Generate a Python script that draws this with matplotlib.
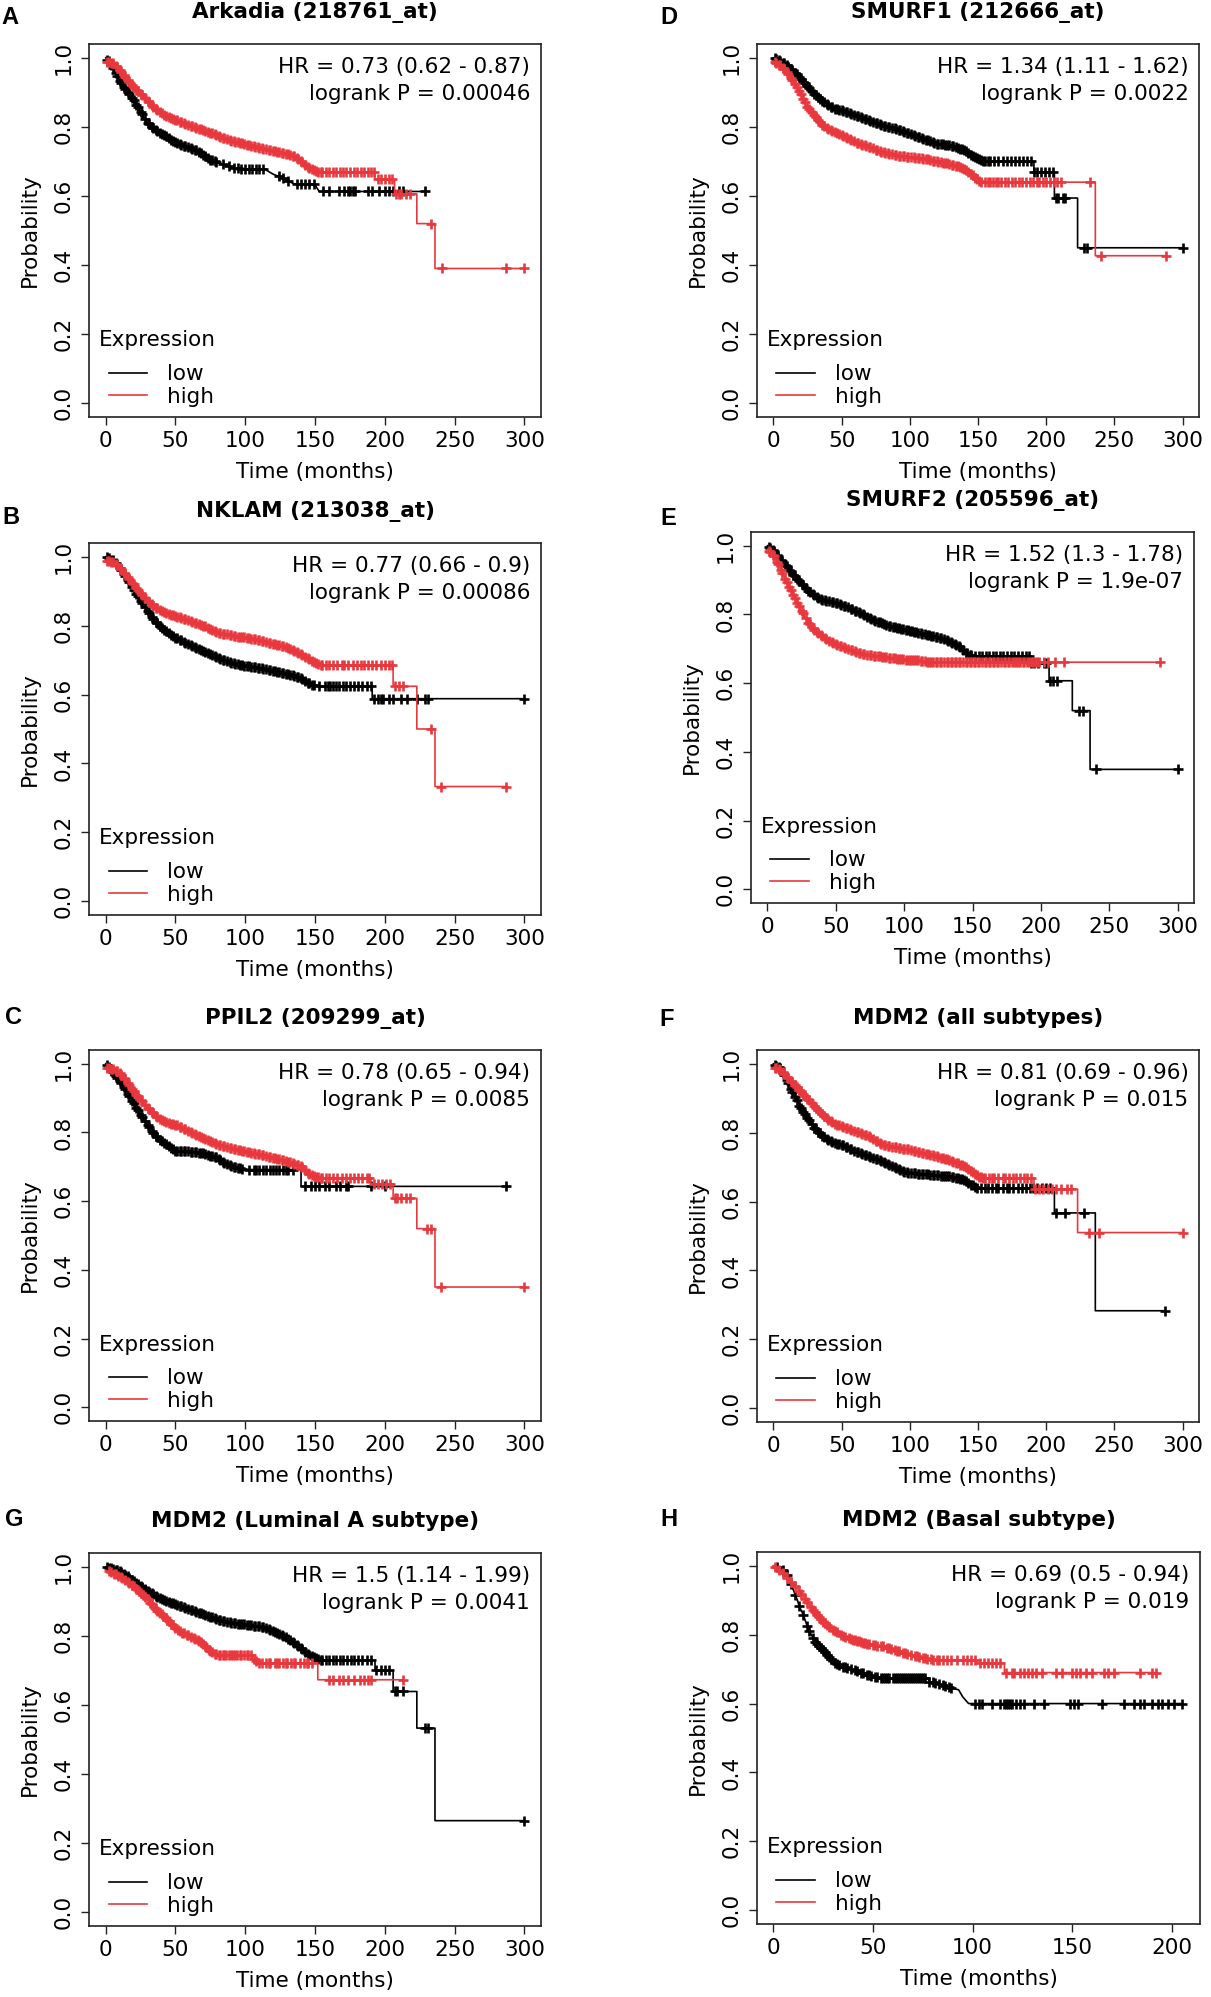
import numpy as np
import matplotlib.pyplot as plt

# Kaplan-Meier curves: knots (months, survival) and censor-mark times

# shared dense run of censor marks (where the "+" marks merge into a thick band)
dense_marks = [1, 2, 4, 5, 7, 8, 10, 11, 13, 14, 16, 17, 19, 20, 22, 23, 25, 26, 28, 30, 31, 33,
               34, 36, 37, 39, 40, 42, 43, 45, 47, 48, 50, 51, 53, 54, 56, 57, 59, 61, 62, 64, 65,
               67, 68, 70, 71, 73, 75, 76, 78, 79, 81, 82, 84, 85, 87, 89, 90, 92, 93, 95, 96, 98,
               99, 101, 103, 104, 106, 107, 109, 110, 112, 113, 115, 117, 118, 120, 121, 123, 124,
               126, 127, 129, 131, 132, 134, 135, 137, 138, 140, 141, 143, 145, 146, 148, 149, 151,
               152, 154, 155, 157, 159, 160, 162, 163, 165, 166, 168, 169, 171, 173, 174, 176, 177,
               179, 180, 182, 183, 185, 187, 188, 190, 191, 193, 194, 196, 197, 199]


def upto(limit):
    return [m for m in dense_marks if m <= limit]


# A - Arkadia
a_low_t = [0, 3, 6, 9, 12, 15, 18, 21, 24, 27, 30, 35, 40, 45, 50, 55, 60, 65, 70, 75, 80, 85, 90,
           100, 115, 120, 125, 130, 135, 150, 153]
a_low_s = [1.0, 0.985, 0.965, 0.94, 0.92, 0.905, 0.89, 0.87, 0.85, 0.83, 0.81, 0.795, 0.78, 0.768,
           0.755, 0.747, 0.74, 0.732, 0.72, 0.705, 0.697, 0.69, 0.683, 0.678, 0.675, 0.663, 0.655,
           0.645, 0.635, 0.632, 0.613]
a_low_c = upto(80) + [84, 88, 92, 95, 97, 100, 103, 105, 108, 110, 113, 124, 127, 131, 137, 140,
                      143, 146, 149, 156, 160, 167, 171, 174, 175, 177, 179, 188, 191, 196, 200,
                      203, 206, 210, 213, 229]
a_high_t = [0, 5, 10, 15, 20, 25, 30, 35, 40, 45, 50, 60, 70, 80, 90, 100, 110, 120, 130, 135, 140,
            145, 150, 155, 193, 207, 223, 236]
a_high_s = [0.99, 0.985, 0.965, 0.94, 0.915, 0.895, 0.875, 0.855, 0.84, 0.828, 0.82, 0.805, 0.79,
            0.775, 0.76, 0.75, 0.74, 0.73, 0.722, 0.715, 0.70, 0.685, 0.672, 0.668, 0.648, 0.606,
            0.52, 0.39]
a_high_c = upto(155) + [158, 160, 163, 165, 168, 170, 172, 175, 178, 180, 183, 185, 188, 190, 192,
                        195, 197, 200, 203, 205, 208, 210, 212, 215, 218, 233, 241, 287, 300]

# B - NKLAM
b_low_t = [0, 5, 10, 15, 20, 25, 30, 35, 40, 45, 50, 55, 60, 70, 80, 90, 100, 110, 120, 130, 140,
           145, 150, 191]
b_low_s = [1.0, 0.99, 0.968, 0.94, 0.905, 0.872, 0.843, 0.815, 0.794, 0.778, 0.765, 0.755, 0.745,
           0.726, 0.707, 0.693, 0.683, 0.678, 0.669, 0.66, 0.649, 0.634, 0.625, 0.588]
b_low_c = upto(150) + [153, 157, 159, 161, 163, 165, 167, 170, 172, 175, 178, 181, 184, 187, 190,
                       192, 195, 197, 199, 203, 206, 212, 216, 223, 229, 231, 300]
b_high_t = [0, 5, 10, 15, 20, 25, 30, 35, 40, 45, 50, 60, 70, 80, 90, 100, 110, 120, 130, 140, 145,
            150, 155, 206, 223, 236]
b_high_s = [0.99, 0.985, 0.968, 0.945, 0.92, 0.895, 0.872, 0.855, 0.843, 0.835, 0.828, 0.814, 0.80,
            0.78, 0.772, 0.765, 0.758, 0.748, 0.736, 0.717, 0.705, 0.693, 0.685, 0.624, 0.50, 0.333]
b_high_c = upto(155) + [158, 160, 163, 166, 169, 171, 174, 177, 180, 183, 185, 188, 191, 194, 197,
                        200, 203, 205, 207, 210, 213, 233, 240, 287]

# C - PPIL2
c_low_t = [0, 5, 10, 15, 20, 25, 30, 35, 40, 45, 50, 60, 70, 80, 85, 90, 100, 140]
c_low_s = [1.0, 0.975, 0.949, 0.92, 0.886, 0.852, 0.823, 0.794, 0.774, 0.76, 0.747, 0.745, 0.739,
           0.726, 0.712, 0.702, 0.692, 0.643]
c_low_c = upto(98) + [103, 106, 108, 110, 113, 115, 118, 120, 122, 124, 127, 129, 131, 134, 143, 147,
                      150, 153, 157, 160, 165, 168, 172, 174, 190, 200, 287]
c_high_t = [0, 5, 10, 15, 20, 25, 30, 35, 40, 45, 50, 60, 70, 80, 90, 100, 110, 120, 130, 140, 145,
            150, 155, 190, 206, 223, 236]
c_high_s = [0.99, 0.985, 0.973, 0.95, 0.92, 0.895, 0.871, 0.852, 0.837, 0.828, 0.823, 0.803, 0.784,
            0.765, 0.755, 0.745, 0.736, 0.726, 0.716, 0.702, 0.682, 0.671, 0.668, 0.65, 0.608, 0.52,
            0.35]
c_high_c = upto(155) + [158, 160, 163, 166, 169, 172, 175, 178, 181, 184, 187, 189, 192, 195, 198,
                        201, 204, 207, 209, 212, 215, 218, 230, 233, 240, 300]

# G - MDM2 Luminal A
g_low_t = [0, 5, 10, 15, 20, 25, 30, 35, 40, 45, 50, 55, 60, 65, 70, 75, 80, 85, 90, 100, 110, 115,
           120, 125, 130, 135, 140, 145, 150, 155, 193, 206, 223, 236]
g_low_s = [1.0, 0.995, 0.988, 0.975, 0.96, 0.945, 0.93, 0.918, 0.906, 0.898, 0.891, 0.884, 0.877,
           0.87, 0.862, 0.855, 0.848, 0.843, 0.838, 0.833, 0.828, 0.822, 0.814, 0.805, 0.794, 0.78,
           0.766, 0.747, 0.737, 0.729, 0.70, 0.639, 0.533, 0.265]
g_low_c = upto(155) + [158, 160, 163, 165, 168, 170, 173, 176, 178, 181, 184, 187, 190, 194, 197,
                       200, 203, 207, 209, 213, 229, 231, 300]
g_high_t = [0, 5, 10, 15, 20, 25, 30, 35, 40, 45, 50, 55, 60, 65, 70, 75, 80, 105, 110, 152]
g_high_s = [0.99, 0.982, 0.973, 0.958, 0.944, 0.925, 0.906, 0.881, 0.862, 0.843, 0.824, 0.809, 0.80,
            0.79, 0.776, 0.756, 0.744, 0.735, 0.722, 0.673]
g_high_c = [2, 4, 6, 7, 9, 11, 12, 14, 16, 17, 19, 20, 22, 24, 25, 27, 28, 30, 32, 33, 35, 36, 37,
            39, 40, 41, 43, 44, 45, 47, 48, 50, 52, 53, 55, 56, 58, 59, 61, 63, 64, 66, 67, 68, 70,
            71, 72, 74, 75, 76, 78, 79, 81, 82, 84, 85, 86, 88, 90, 91, 93, 94, 96, 97, 99, 101,
            102, 104, 106, 108, 110, 112, 115, 117, 118, 121, 123, 124, 127, 129, 130, 133, 135,
            136, 139, 142, 144, 145, 148, 160, 163, 167, 170, 174, 178, 182, 185, 188, 190, 213]

# D - SMURF1
d_low_t = [0, 5, 10, 15, 20, 25, 30, 35, 40, 45, 50, 60, 70, 80, 90, 100, 110, 120, 130, 140, 145,
           150, 155, 191, 206, 223]
d_low_s = [1.0, 0.992, 0.978, 0.96, 0.94, 0.918, 0.896, 0.878, 0.862, 0.853, 0.848, 0.833, 0.819,
           0.804, 0.795, 0.78, 0.766, 0.751, 0.747, 0.732, 0.718, 0.708, 0.70, 0.67, 0.594, 0.45]
d_low_c = upto(155) + [157, 159, 162, 165, 168, 171, 174, 177, 180, 183, 186, 189, 191, 193, 196,
                       199, 202, 205, 207, 209, 212, 214, 228, 230, 300]
d_high_t = [0, 5, 10, 15, 20, 25, 30, 35, 40, 45, 50, 60, 70, 80, 90, 100, 110, 120, 130, 140, 145,
            150, 153, 236]
d_high_s = [0.99, 0.978, 0.959, 0.93, 0.896, 0.857, 0.833, 0.809, 0.795, 0.785, 0.776, 0.756, 0.742,
            0.727, 0.718, 0.713, 0.708, 0.70, 0.692, 0.679, 0.665, 0.645, 0.64, 0.427]
d_high_c = upto(152) + [155, 157, 159, 161, 163, 165, 167, 170, 172, 175, 177, 180, 182, 185, 188,
                        190, 193, 195, 198, 200, 203, 206, 208, 211, 232, 240, 288]

# E - SMURF2
e_low_t = [0, 5, 10, 15, 20, 25, 30, 35, 40, 45, 50, 60, 70, 80, 90, 100, 110, 120, 130, 140, 145,
           150, 192, 206, 223, 236]
e_low_s = [1.0, 0.984, 0.959, 0.935, 0.911, 0.89, 0.868, 0.853, 0.843, 0.838, 0.834, 0.819, 0.80,
           0.78, 0.766, 0.756, 0.747, 0.737, 0.727, 0.708, 0.689, 0.679, 0.658, 0.607, 0.52, 0.349]
e_low_c = upto(149) + [152, 155, 157, 160, 162, 165, 167, 170, 172, 175, 178, 180, 183, 186, 189,
                       191, 193, 195, 198, 202, 204, 207, 209, 212, 228, 231, 240, 300]
e_high_t = [0, 5, 10, 15, 20, 25, 30, 35, 40, 45, 50, 60, 70, 80, 90, 100, 110, 120]
e_high_s = [0.99, 0.969, 0.93, 0.887, 0.848, 0.81, 0.776, 0.751, 0.737, 0.722, 0.713, 0.698, 0.684,
            0.679, 0.674, 0.669, 0.666, 0.661]
e_high_c = upto(199) + [202, 205, 210, 217, 287]

# F - MDM2 all subtypes
f_low_t = [0, 5, 10, 15, 20, 25, 30, 35, 40, 45, 50, 60, 70, 80, 90, 95, 100, 110, 120, 130, 140,
           145, 150, 206, 236]
f_low_s = [1.0, 0.987, 0.954, 0.91, 0.871, 0.843, 0.814, 0.794, 0.78, 0.77, 0.765, 0.746, 0.731,
           0.717, 0.698, 0.688, 0.683, 0.68, 0.676, 0.673, 0.663, 0.649, 0.638, 0.567, 0.283]
f_low_c = upto(149) + [152, 155, 157, 160, 163, 165, 168, 171, 173, 176, 179, 182, 185, 188, 190,
                       193, 197, 200, 203, 207, 214, 228, 287]
f_high_t = [0, 5, 10, 15, 20, 25, 30, 35, 40, 45, 50, 60, 70, 80, 90, 100, 110, 120, 130, 140, 145,
            150, 155, 191, 223]
f_high_s = [0.99, 0.983, 0.963, 0.942, 0.92, 0.898, 0.876, 0.857, 0.838, 0.826, 0.818, 0.804, 0.789,
            0.765, 0.757, 0.751, 0.741, 0.731, 0.719, 0.702, 0.688, 0.673, 0.668, 0.636, 0.51]
f_high_c = upto(155) + [158, 160, 162, 165, 168, 170, 173, 176, 178, 181, 184, 186, 189, 192, 195,
                        198, 201, 204, 207, 211, 215, 218, 231, 239, 300]

# H - MDM2 Basal
h_low_t = [0, 3, 6, 8, 10, 12, 13, 15, 17, 19, 21, 24, 27, 30, 35, 40, 45, 50, 55, 78, 85, 88, 93,
           95, 98]
h_low_s = [1.0, 0.993, 0.984, 0.964, 0.93, 0.901, 0.882, 0.858, 0.824, 0.80, 0.78, 0.761, 0.742,
           0.722, 0.707, 0.698, 0.688, 0.678, 0.673, 0.664, 0.654, 0.647, 0.64, 0.62, 0.60]
h_low_c = [2, 5, 7, 9, 11, 13, 15, 17, 18, 20, 21, 22, 23, 24, 25, 26, 27, 28, 29, 31, 32, 33, 35,
           36, 37, 39, 41, 42, 44, 45, 47, 48, 49, 51, 52, 54, 55, 56, 57, 58, 60, 61, 62, 63, 64,
           65, 66, 67, 68, 69, 70, 71, 72, 73, 74, 75, 76, 78, 80, 81, 83, 85, 86, 88, 89, 101,
           103, 105, 110, 114, 116, 117, 118, 119, 120, 122, 124, 126, 131, 136, 149, 151, 153,
           165, 176, 181, 184, 186, 190, 193, 195, 198, 201, 205]
h_high_t = [0, 3, 5, 8, 10, 12, 15, 18, 20, 25, 30, 35, 40, 45, 50, 55, 60, 65, 70, 75, 80, 102, 116]
h_high_s = [1.0, 0.988, 0.979, 0.959, 0.945, 0.935, 0.911, 0.887, 0.872, 0.838, 0.814, 0.795, 0.785,
            0.777, 0.77, 0.766, 0.756, 0.748, 0.741, 0.732, 0.727, 0.717, 0.69]
h_high_c = [1, 3, 5, 7, 9, 11, 13, 14, 16, 17, 19, 20, 21, 22, 23, 24, 25, 26, 27, 28, 30, 31, 32,
            34, 35, 36, 38, 39, 40, 41, 42, 43, 44, 45, 46, 47, 48, 50, 51, 52, 54, 55, 57, 58, 59,
            61, 62, 63, 65, 66, 67, 69, 71, 72, 73, 75, 76, 77, 79, 80, 82, 83, 85, 87, 89, 92,
            95, 97, 99, 101, 104, 106, 108, 110, 112, 114, 117, 120, 121, 124, 126, 128, 130, 132,
            135, 142, 145, 150, 152, 154, 157, 160, 166, 168, 171, 184, 190, 192]

letters = ['A', 'B', 'C', 'G', 'D', 'E', 'F', 'H']
titles = ['Arkadia (218761_at)', 'NKLAM (213038_at)', 'PPIL2 (209299_at)',
          'MDM2 (Luminal A subtype)', 'SMURF1 (212666_at)', 'SMURF2 (205596_at)',
          'MDM2 (all subtypes)', 'MDM2 (Basal subtype)']
hr_text = ['HR = 0.73 (0.62 - 0.87)', 'HR = 0.77 (0.66 - 0.9)', 'HR = 0.78 (0.65 - 0.94)',
           'HR = 1.5 (1.14 - 1.99)', 'HR = 1.34 (1.11 - 1.62)', 'HR = 1.52 (1.3 - 1.78)',
           'HR = 0.81 (0.69 - 0.96)', 'HR = 0.69 (0.5 - 0.94)']
p_text = ['logrank P = 0.00046', 'logrank P = 0.00086', 'logrank P = 0.0085',
          'logrank P = 0.0041', 'logrank P = 0.0022', 'logrank P = 1.9e-07',
          'logrank P = 0.015', 'logrank P = 0.019']
x_max = [300, 300, 300, 300, 300, 300, 300, 206]
x_last = [300, 300, 300, 300, 300, 300, 300, 200]
curves = [
    ((a_low_t, a_low_s, a_low_c), (a_high_t, a_high_s, a_high_c)),
    ((b_low_t, b_low_s, b_low_c), (b_high_t, b_high_s, b_high_c)),
    ((c_low_t, c_low_s, c_low_c), (c_high_t, c_high_s, c_high_c)),
    ((g_low_t, g_low_s, g_low_c), (g_high_t, g_high_s, g_high_c)),
    ((d_low_t, d_low_s, d_low_c), (d_high_t, d_high_s, d_high_c)),
    ((e_low_t, e_low_s, e_low_c), (e_high_t, e_high_s, e_high_c)),
    ((f_low_t, f_low_s, f_low_c), (f_high_t, f_high_s, f_high_c)),
    ((h_low_t, h_low_s, h_low_c), (h_high_t, h_high_s, h_high_c)),
]

# layout in pixels: axes box (left, top, right, bottom), panel letter centre
W, H = 1211, 1997
boxes = [(89, 44, 541, 417), (89, 543, 541, 915), (89, 1050, 541, 1421), (89, 1553, 541, 1926),
         (757, 44, 1199, 417), (751, 532, 1194, 903), (757, 1050, 1199, 1422),
         (757, 1552, 1200, 1924)]
letter_pos = [(10, 18), (11, 517), (13, 1018), (14, 1520),
              (669, 18), (668, 518), (667, 1020), (669, 1520)]

RED = '#e8383d'
BLACK = '#000000'
FS = 15.5


def km_path(ts, ss, end):
    # knots close together are the many tiny steps of the dense part: join them directly;
    # a knot after a long flat stretch is a real visible step
    xs, ys = [ts[0]], [ss[0]]
    for k in range(1, len(ts)):
        if ts[k] - ts[k - 1] > 10:
            xs.append(ts[k])
            ys.append(ss[k - 1])
        xs.append(ts[k])
        ys.append(ss[k])
    xs.append(end)
    ys.append(ss[-1])
    return np.array(xs, float), np.array(ys, float)


fig = plt.figure(figsize=(W / 100, H / 100), dpi=100)

for i in range(8):
    l, t, r, b = boxes[i]
    ax = fig.add_axes([l / W, 1 - b / H, (r - l) / W, (b - t) / H])
    handles = []
    for (ts, ss, cs), col, lab in zip(curves[i], (BLACK, RED), ('low', 'high')):
        cs = np.asarray(cs, float)
        xs, ys = km_path(ts, ss, max(cs.max(), ts[-1]))
        ln, = ax.plot(xs, ys, color=col, lw=1.2, label=lab)
        ax.plot(cs, np.interp(cs, xs, ys), ls='none', marker='+', ms=7.5, mew=1.9, color=col)
        handles.append(ln)

    xm = x_max[i]
    ax.set_xlim(-0.04 * xm, 1.04 * xm)
    ax.set_ylim(-0.04, 1.04)
    ax.set_xticks(np.arange(0, x_last[i] + 1, 50))
    ax.set_yticks([0, 0.2, 0.4, 0.6, 0.8, 1.0])
    ax.set_yticklabels(['0.0', '0.2', '0.4', '0.6', '0.8', '1.0'])
    ax.tick_params(axis='both', direction='out', length=6, width=1, labelsize=FS,
                   color='#222222')
    ax.tick_params(axis='x', pad=4)
    ax.tick_params(axis='y', labelrotation=90, pad=5)
    for lbl in ax.get_yticklabels():
        lbl.set_va('center')
    for sp in ax.spines.values():
        sp.set_linewidth(1.2)
        sp.set_color('#222222')

    ax.set_xlabel('Time (months)', fontsize=FS, labelpad=8)
    ax.set_ylabel('Probability', fontsize=FS, labelpad=10)
    ax.set_title(titles[i], fontsize=15.5, fontweight='bold', pad=19)

    ax.text(0.976, 0.937, hr_text[i], transform=ax.transAxes, ha='right', va='center', fontsize=FS)
    ax.text(0.976, 0.865, p_text[i], transform=ax.transAxes, ha='right', va='center', fontsize=FS)

    ax.text(0.022, 0.206, 'Expression', transform=ax.transAxes, ha='left', va='center',
            fontsize=FS)
    ax.legend(handles=handles, loc='lower left', bbox_to_anchor=(0.044, 0.028),
              frameon=False, fontsize=FS, handlelength=1.77, handletextpad=0.93,
              labelspacing=0.1, borderpad=0, borderaxespad=0)

    lx, ly = letter_pos[i]
    fig.text(lx / W, 1 - ly / H, letters[i], ha='center', va='center', fontsize=17,
             fontweight='bold', family='Liberation Sans')

fig.savefig('out.png', dpi=100)
